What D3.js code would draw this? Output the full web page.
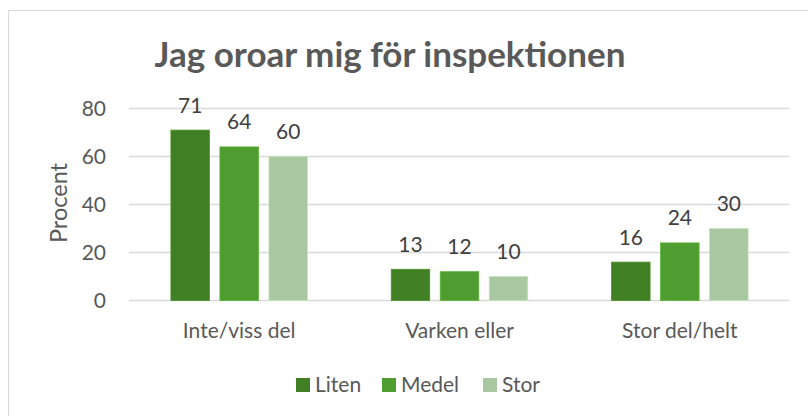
<!DOCTYPE html>
<html lang="sv">
<head>
<meta charset="utf-8">
<script src="https://d3js.org/d3.v7.min.js"></script>
<style>
  body { margin: 0; background: #fff; }
  svg { display: block; font-family: Lato, "Open Sans", sans-serif; }
</style>
</head>
<body>
<svg width="808" height="416"></svg>
<script>
const categories = ["Inte/viss del", "Varken eller", "Stor del/helt"];
const series = ["Liten", "Medel", "Stor"];
const liten = [71, 13, 16];
const medel = [64, 12, 24];
const stor = [60, 10, 30];
const yTicks = [0, 20, 40, 60, 80];
const colors = ["#407f23", "#4f9c31", "#a9c7a1"];

const values = [liten, medel, stor];
const svg = d3.select("svg");

// chart frame
svg.append("rect")
  .attr("x", 8.5).attr("y", 10.5)
  .attr("width", 820).attr("height", 420)
  .attr("fill", "none").attr("stroke", "#d9d9d9");

const plotLeft = 129, plotRight = 790, plotTop = 108.5, plotBottom = 300.5;

const y = d3.scaleLinear().domain([0, 80]).range([plotBottom, plotTop]);
const x0 = d3.scaleBand().domain(categories).range([plotLeft, plotRight]);
const x1 = d3.scaleBand().domain(series).range([0, x0.bandwidth()])
  .paddingInner(0.214).paddingOuter(0.855);

// gridlines
svg.append("g").selectAll("line").data(yTicks).join("line")
  .attr("x1", plotLeft).attr("x2", plotRight)
  .attr("y1", d => y(d)).attr("y2", d => y(d))
  .attr("stroke", "#d9d9d9").attr("stroke-width", 1.5);

// y tick labels
svg.append("g").selectAll("text").data(yTicks).join("text")
  .attr("x", 106).attr("y", d => y(d))
  .attr("dy", "0.35em").attr("text-anchor", "end")
  .attr("font-size", 21).attr("fill", "#595959")
  .text(d => d);

// axis title
svg.append("text")
  .attr("transform", "translate(67,203) rotate(-90)")
  .attr("text-anchor", "middle")
  .attr("font-size", 23.5).attr("fill", "#595959")
  .text("Procent");

// title
svg.append("text")
  .attr("x", 390).attr("y", 67)
  .attr("text-anchor", "middle")
  .attr("font-size", 35).attr("font-weight", "bold").attr("fill", "#595959")
  .text("Jag oroar mig för inspektionen");

// bars
const groups = svg.append("g").selectAll("g").data(categories).join("g")
  .attr("transform", d => `translate(${x0(d)},0)`);

groups.selectAll("rect")
  .data((c, i) => series.map((s, j) => ({ s, j, v: values[j][i] })))
  .join("rect")
  .attr("x", d => x1(d.s)).attr("width", x1.bandwidth())
  .attr("y", d => y(d.v)).attr("height", d => plotBottom - y(d.v))
  .attr("fill", d => colors[d.j])
  .attr("stroke", d => d3.color(colors[d.j]).brighter(0.4))
  .attr("stroke-width", 0.8);

groups.selectAll("text")
  .data((c, i) => series.map((s, j) => ({ s, j, v: values[j][i] })))
  .join("text")
  .attr("x", d => x1(d.s) + x1.bandwidth() / 2)
  .attr("y", d => y(d.v) - 17.5)
  .attr("text-anchor", "middle")
  .attr("font-size", 21).attr("fill", "#404040")
  .text(d => d.v);

// category labels
svg.append("g").selectAll("text").data(categories).join("text")
  .attr("x", d => x0(d) + x0.bandwidth() / 2).attr("y", 338)
  .attr("text-anchor", "middle")
  .attr("font-size", 21).attr("fill", "#595959")
  .text(d => d);

// legend
const legendX = [296, 382, 483];
const legend = svg.append("g").selectAll("g").data(series).join("g")
  .attr("transform", (d, i) => `translate(${legendX[i]},378)`);
legend.append("rect")
  .attr("width", 14).attr("height", 14)
  .attr("fill", (d, i) => colors[i]);
legend.append("text")
  .attr("x", 19).attr("y", 14)
  .attr("font-size", 21).attr("fill", "#595959")
  .text(d => d);
</script>
</body>
</html>
